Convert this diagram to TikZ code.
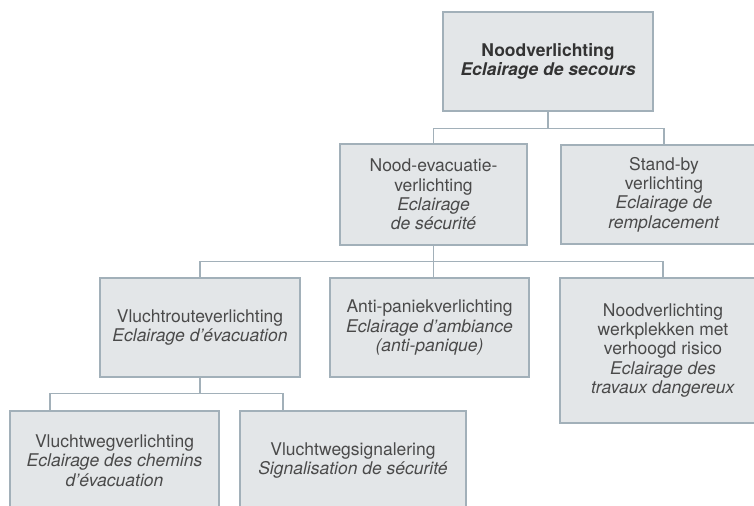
\documentclass[tikz,border=0pt]{standalone}
\usepackage{fontspec}
\setmainfont{TeX Gyre Heros}
\usetikzlibrary{positioning}

\definecolor{vulgrijs}{HTML}{E3E6E8}
\definecolor{randgrijs}{HTML}{A2B0B9}
\definecolor{tekstgrijs}{HTML}{4A4A4A}

\begin{document}
\begin{tikzpicture}[
        x=1bp, y=-1bp, % pixels, y naar beneden
        blok/.style={draw=randgrijs, fill=vulgrijs, line width=1.3bp, align=center,
            inner sep=0pt, text=tekstgrijs, font=\fontsize{17.5bp}{19.3bp}\selectfont}, % Stijl van de blokken
        lijn/.style={draw=randgrijs, line width=1.3bp}, % Verbindingslijnen
    ]
    \useasboundingbox (0,0) rectangle (754,506);
    \clip (0,0) rectangle (754,506);

    % niveau 1
    \node[blok, text=black!80, minimum width=210bp, minimum height=99bp] (nood) at (548,61.5)
        {\textbf{Noodverlichting}\\\textbf{\textit{Eclairage de secours}}};

    % niveau 2
    \node[blok, minimum width=187bp, minimum height=101bp] (evac) at (433.5,194.5)
        {Nood-evacuatie-\\verlichting\\\textit{Eclairage}\\\textit{de sécurité}};
    \node[blok, minimum width=206bp, minimum height=99bp] (standby) at (664,194.5)
        {Stand-by\\verlichting\\\textit{Eclairage de}\\\textit{remplacement}};

    % niveau 3
    \node[blok, minimum width=200bp, minimum height=99bp] (vroute) at (200,327.5)
        {Vluchtrouteverlichting\\\textit{Eclairage d’évacuation}};
    \node[blok, minimum width=199bp, minimum height=99bp] (anti) at (429.5,327.5)
        {Anti-paniekverlichting\\\textit{Eclairage d’ambiance}\\\textit{(anti-panique)}};
    \node[blok, minimum width=206bp, minimum height=145bp] (werk) at (663,350.5)
        {Noodverlichting\\werkplekken met\\verhoogd risico\\\textit{Eclairage des}\\\textit{travaux dangereux}};

    % niveau 4
    \node[blok, minimum width=209bp, minimum height=99bp] (wegverl) at (114.5,460.5)
        {Vluchtwegverlichting\\\textit{Eclairage des chemins}\\\textit{d’évacuation}};
    \node[blok, minimum width=226bp, minimum height=99bp] (signaal) at (353,460.5)
        {Vluchtwegsignalering\\\textit{Signalisation de sécurité}};

    % verbindingen
    \draw[lijn] (nood.south) -- ++(0,17) coordinate (bus1);
    \draw[lijn] (evac.north) |- (bus1) -| (standby.north);

    \draw[lijn] (evac.south) -- ++(0,16) coordinate (bus2);
    \draw[lijn] (vroute.north) |- (bus2) -| (werk.north);
    \draw[lijn] (bus2 |- anti.north) -- (bus2);

    \draw[lijn] (vroute.south) -- ++(0,16) coordinate (bus3);
    \draw[lijn] ([xshift=-64.5bp]wegverl.north) |- (bus3) -| ([xshift=-70bp]signaal.north);
\end{tikzpicture}
\end{document}
